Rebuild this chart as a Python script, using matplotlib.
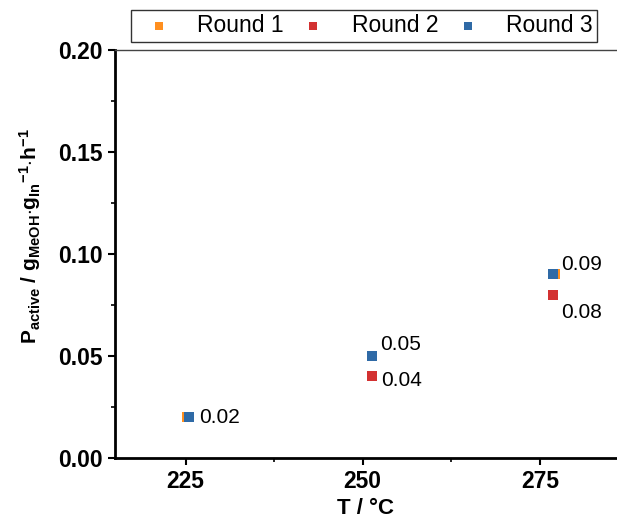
import matplotlib
matplotlib.use("Agg")
import matplotlib.pyplot as plt
from matplotlib.ticker import MultipleLocator

plt.rcParams["font.family"] = "Liberation Sans"
plt.rcParams["mathtext.fontset"] = "custom"
plt.rcParams["mathtext.rm"] = "Liberation Sans"
plt.rcParams["mathtext.bf"] = "Liberation Sans:bold"
plt.rcParams["mathtext.it"] = "Liberation Sans:italic"

# données
series = ["Round 1", "Round 2", "Round 3"]
colors = ["#FF8F1F", "#D33131", "#2F6AA6"]
temp_r1 = [225.2, 251.3, 277.2]
temp = [225.5, 251.3, 276.9]
round1 = [0.02, 0.05, 0.09]
round2 = [0.02, 0.04, 0.08]
round3 = [0.02, 0.05, 0.09]

# étiquettes : (serie, indice, texte, décalage en points)
labels = [
    (2, 0, "0.02", (7.5, 0)),
    (2, 1, "0.05", (6, 8)),
    (1, 1, "0.04", (7, -3)),
    (2, 2, "0.09", (6, 7)),
    (1, 2, "0.08", (6, -13)),
]

fig = plt.figure(figsize=(6.17, 5.22), dpi=100)
ax = fig.add_axes([0.186, 0.1226, 0.814, 0.7816])

xs = [temp_r1, temp, temp]
ys = [round1, round2, round3]
for x, y, c, name in zip(xs, ys, colors, series):
    ax.scatter(x, y, marker="s", s=45, color=c, label=name, linewidths=0, zorder=3)

for si, i, txt, off in labels:
    ax.annotate(txt, (xs[si][i], ys[si][i]), xytext=off, textcoords="offset points",
                ha="left", va="center", fontsize=15)

ax.set_xlim(215, 285.9)
ax.set_ylim(0, 0.2)
ax.set_xticks([225, 250, 275])
ax.xaxis.set_minor_locator(MultipleLocator(12.5))
ax.yaxis.set_major_locator(MultipleLocator(0.05))
ax.yaxis.set_minor_locator(MultipleLocator(0.025))
ax.yaxis.set_major_formatter(plt.FormatStrFormatter("%.2f"))

ax.tick_params(which="major", length=5, width=1.5, labelsize=16.5, direction="out")
ax.tick_params(which="minor", length=3, width=1.2, direction="out")
for lab in ax.get_xticklabels() + ax.get_yticklabels():
    lab.set_fontweight("bold")

ax.spines["left"].set_linewidth(2)
ax.spines["bottom"].set_linewidth(2)
ax.spines["top"].set_linewidth(1)
ax.spines["top"].set_color("#444444")
ax.spines["right"].set_visible(False)

ax.set_xlabel("T / °C", fontsize=16, fontweight="bold", labelpad=4)
ax.set_ylabel(r"$\mathbf{P_{active}\ /\ g_{MeOH}{\cdot}g_{In}{}^{-1}{\cdot}h^{-1}}$", fontsize=15)
ax.yaxis.set_label_coords(-0.142, 0.544)

leg = ax.legend(loc="center", bbox_to_anchor=(0.497, 1.059), ncol=3, fontsize=16.5,
                frameon=True, fancybox=False, edgecolor="black", handletextpad=0.67,
                columnspacing=0.3, borderpad=0.2, handlelength=2.0, markerscale=0.8)
leg.get_frame().set_linewidth(1)

plt.savefig("out.png", dpi=100)
